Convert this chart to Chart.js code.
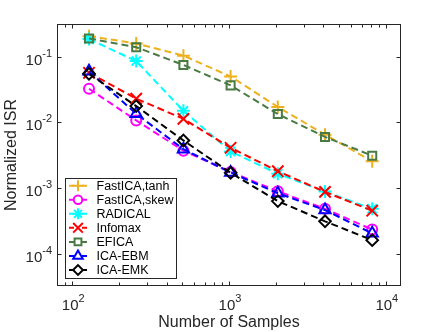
<!DOCTYPE html>
<html>
<head>
<meta charset="utf-8">
<script src="https://cdn.jsdelivr.net/npm/chart.js@4"></script>
<style>
  html, body { margin: 0; padding: 0; background: #fff; }
  canvas { display: block; }
</style>
</head>
<body>
<canvas id="graficoIsr" width="443" height="332"></canvas>
<script>
// Datos
const muestras = [128, 256, 512, 1024, 2048, 4096, 8192];
const nombres = ['FastICA,tanh', 'FastICA,skew', 'RADICAL', 'Infomax', 'EFICA', 'ICA-EBM', 'ICA-EMK'];
const fastTanh = [0.206, 0.16, 0.104, 0.05, 0.0172, 0.0065, 0.00255];
const fastSkew = [0.0325, 0.0107, 0.0037, 0.00175, 0.00089, 0.00048, 0.000232];
const radical = [0.186, 0.086, 0.015, 0.0036, 0.00165, 0.00088, 0.00048];
const infomax = [0.057, 0.023, 0.0113, 0.0041, 0.0018, 0.00087, 0.00045];
const efica = [0.19, 0.14, 0.075, 0.0366, 0.0134, 0.006, 0.0031];
const icaEbm = [0.06, 0.0135, 0.0039, 0.00172, 0.00083, 0.00046, 0.000203];
const icaEmk = [0.055, 0.0177, 0.0053, 0.0017, 0.00063, 0.00031, 0.00016];
const ticksX = [100, 1000, 10000];
const ticksY = [1e-4, 1e-3, 1e-2, 1e-1];

const series = [fastTanh, fastSkew, radical, infomax, efica, icaEbm, icaEmk];
const colores = ['#EDB120', '#FF00FF', '#00FFFF', '#FF0000', '#4A7A44', '#0000FF', '#000000'];
const marcadores = ['cross', 'circle', 'star', 'crossRot', 'rect', 'triangle', 'rectRot'];
const radios = [6.5, 5, 6.5, 8, 5.7, 6.5, 5.8];

const FUENTE = '"Liberation Sans", Arial, Helvetica, sans-serif';
const GRIS = '#262626';

// Etiqueta tipo 10^n
function potencia(ctx, exp, x, y, alinear) {
    ctx.font = '15px ' + FUENTE;
    const wBase = ctx.measureText('10').width;
    ctx.font = '11px ' + FUENTE;
    const wExp = ctx.measureText(exp).width;
    let x0 = x;
    if (alinear === 'center') x0 = x - (wBase + wExp) / 2;
    if (alinear === 'right') x0 = x - (wBase + wExp);
    ctx.textAlign = 'left';
    ctx.textBaseline = 'alphabetic';
    ctx.font = '15px ' + FUENTE;
    ctx.fillText('10', x0, y);
    ctx.font = '11px ' + FUENTE;
    ctx.fillText(exp, x0 + wBase, y - 8);
}

const marco = {
    id: 'marco',
    afterDraw(chart) {
        const { ctx, chartArea: a, scales } = chart;
        const ex = scales.x, ey = scales.y;
        ctx.save();
        ctx.strokeStyle = GRIS;
        ctx.lineWidth = 1;
        const L = Math.round(a.left) + 0.5, R = Math.round(a.right) - 0.5;
        const T = Math.round(a.top) + 0.5, B = Math.round(a.bottom) - 0.5;
        ctx.strokeRect(L, T, R - L, B - T);

        // marcas del eje x (mayores y menores)
        ctx.beginPath();
        for (let e = 1; e <= 4; e++) {
            for (let m = 1; m <= 9; m++) {
                const v = m * Math.pow(10, e);
                if (v < ex.min || v > ex.max) continue;
                const px = Math.round(ex.getPixelForValue(v)) + 0.5;
                const len = m === 1 ? 4 : 3;
                ctx.moveTo(px, B); ctx.lineTo(px, B - len);
                ctx.moveTo(px, T); ctx.lineTo(px, T + len);
            }
        }
        // marcas del eje y
        ticksY.forEach(v => {
            const py = Math.round(ey.getPixelForValue(v)) + 0.5;
            ctx.moveTo(L, py); ctx.lineTo(L + 4, py);
            ctx.moveTo(R, py); ctx.lineTo(R - 4, py);
        });
        ctx.stroke();

        // etiquetas
        ctx.fillStyle = GRIS;
        ticksX.forEach(v => {
            potencia(ctx, String(Math.round(Math.log10(v))), ex.getPixelForValue(v) + 1, 310, 'center');
        });
        ticksY.forEach(v => {
            potencia(ctx, String(Math.round(Math.log10(v))), 52, ey.getPixelForValue(v) + 8, 'right');
        });

        // títulos
        ctx.font = '16px ' + FUENTE;
        ctx.textAlign = 'center';
        ctx.textBaseline = 'alphabetic';
        ctx.fillText('Number of Samples', (a.left + a.right) / 2, 327);
        ctx.save();
        ctx.translate(16, (a.top + a.bottom) / 2);
        ctx.rotate(-Math.PI / 2);
        ctx.fillText('Normalized ISR', 0, 0);
        ctx.restore();

        // leyenda
        const lx = 65.5, ly = 178.5, lw = 111, lh = 100;
        ctx.fillStyle = '#fff';
        ctx.fillRect(lx, ly, lw, lh);
        ctx.strokeStyle = GRIS;
        ctx.lineWidth = 1;
        ctx.strokeRect(lx, ly, lw, lh);
        chart.data.datasets.forEach((ds, i) => {
            const cy = 185.7 + i * 14.05;
            ctx.strokeStyle = ds.borderColor;
            ctx.lineWidth = 2;
            ctx.setLineDash([]);
            ctx.beginPath();
            ctx.moveTo(69, cy); ctx.lineTo(74, cy);
            ctx.moveTo(82, cy); ctx.lineTo(87, cy);
            ctx.stroke();
            ctx.fillStyle = 'rgba(0,0,0,0)';
            Chart.helpers.drawPoint(ctx, {
                pointStyle: ds.pointStyle, radius: ds.pointRadius * 0.85, rotation: 0, borderWidth: 2
            }, 78, cy);
            ctx.fillStyle = '#000';
            ctx.font = '12.5px ' + FUENTE;
            ctx.textAlign = 'left';
            ctx.textBaseline = 'middle';
            ctx.fillText(ds.label, 96.5, cy + 0.5);
        });
        ctx.restore();
    }
};

const ctxIsr = document.getElementById('graficoIsr').getContext('2d');
new Chart(ctxIsr, {
    type: 'line',
    data: {
        datasets: series.map((valores, i) => ({
            label: nombres[i],
            data: muestras.map((m, k) => ({ x: m, y: valores[k] })),
            borderColor: colores[i],
            backgroundColor: 'rgba(0,0,0,0)',
            borderWidth: 2,
            borderDash: [7, 4],
            pointStyle: marcadores[i],
            pointRadius: radios[i],
            pointBorderWidth: 2,
            pointBorderColor: colores[i],
            pointBackgroundColor: 'rgba(0,0,0,0)',
            tension: 0,
            fill: false,
            order: series.length - 1 - i
        }))
    },
    options: {
        responsive: false,
        animation: false,
        devicePixelRatio: 1,
        layout: { padding: { top: 24, right: 42, left: 0, bottom: 0 } },
        plugins: {
            legend: { display: false },
            tooltip: { enabled: false }
        },
        scales: {
            x: {
                type: 'logarithmic',
                min: 80,
                max: 12500,
                grid: { display: false },
                border: { display: false },
                ticks: { display: false },
                afterFit: s => { s.height = 46; }
            },
            y: {
                type: 'logarithmic',
                min: 3.2e-5,
                max: 0.316,
                grid: { display: false },
                border: { display: false },
                ticks: { display: false },
                afterFit: s => { s.width = 57; }
            }
        }
    },
    plugins: [marco]
});
</script>
</body>
</html>
